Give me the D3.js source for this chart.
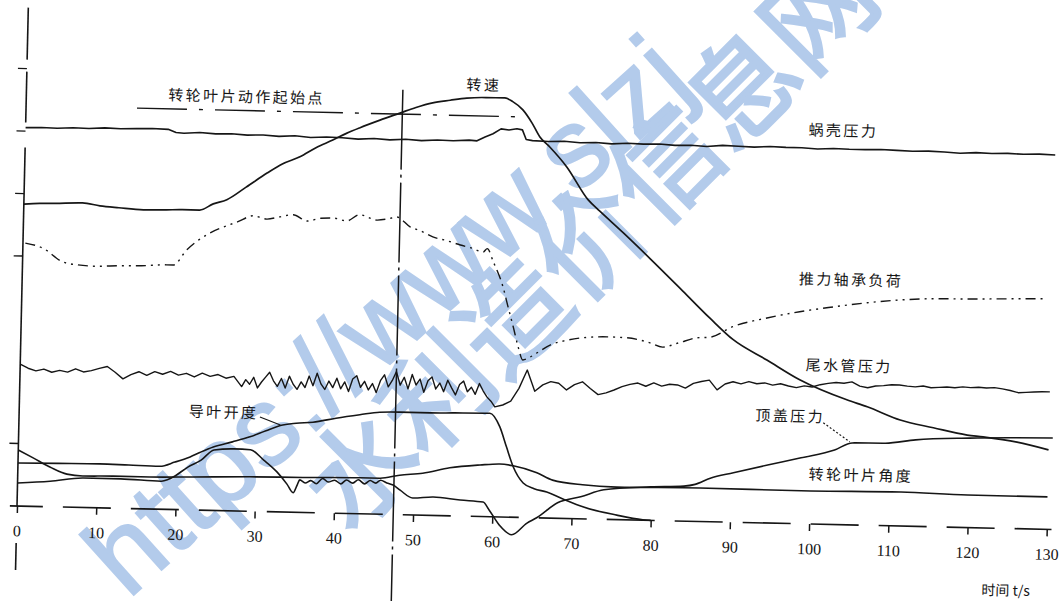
<!DOCTYPE html>
<html>
<head>
<meta charset="utf-8">
<script src="https://cdn.jsdelivr.net/npm/d3@7"></script>
<style>
  html, body { margin: 0; padding: 0; background: #fff; }
  svg { display: block; }
</style>
</head>
<body>
<svg id="chart" width="1063" height="601"></svg>
<script>
// ---- axis ticks ----
const timeTicks = [0, 10, 20, 30, 40, 50, 60, 70, 80, 90, 100, 110, 120, 130];
const levelTicks = [12.5, 50, 62.5, 75, 87.5];

// ---- recorded traces: [time s, relative level] ----
const spiralCasePressure = [
  [0,75.7],[2,75.8],[4,75.7],[6,75.9],[8,75.8],[10,76.0],[12,75.9],[14,76.0],[16,76.1],[18,76.0],
  [19,75.4],[20,75.3],[22,75.5],[24,75.3],[26,75.4],[28,75.2],[30,75.3],[32,75.1],[34,75.3],[36,75.0],
  [38,75.2],[40,75.1],[42,74.9],[44,75.1],[46,74.9],[48,75.1],[50,74.9],[52,75.1],[54,75.0],[56,75.2],
  [57,75.1],[58,75.9],[59,76.6],[60,77.6],[61,77.4],[62,77.7],[62.7,77.5],[63.2,75.6],[64,75.4],[66,75.3],
  [68,75.4],[70,75.2],[72,75.3],[74,75.1],[76,75.3],[78,75.2],[80,75.3],[82,75.1],[84,75.2],[86,75.0],
  [88,75.3],[90,75.2],[92,75.1],[94,75.3],[96,75.2],[98,75.2],[100,75.0],[102,75.2],[104,75.1],[106,75.1],
  [108,75.2],[110,75.1],[112,75.0],[114,75.1],[116,75.0],[118,74.8],[120,75.0],[122,74.9],[124,75.0],
  [126,74.9],[128,75.0],[130,74.9]
];

const rotationalSpeed = [
  [0,60.4],[2,60.6],[4,60.7],[7.4,60.9],[9.6,60.4],[12,60.1],[15.1,59.8],[18,59.9],[20,60.0],[22.2,60.0],
  [23.9,61.3],[25.6,62.2],[28,64.8],[30.6,67.7],[32.5,69.6],[34.7,71.1],[36.7,73.0],[38.8,74.6],[40.5,76.0],
  [42.2,77.2],[44.7,78.8],[47.2,80.3],[49.2,81.5],[51.3,82.5],[53.5,83.1],[55.6,83.6],[58,83.8],[60.4,83.8],
  [61.4,83.1],[62.7,81.5],[63.9,78.9],[64.9,76.2],[66.2,74.2],[68.4,70.3],[71.2,63.8],[72.7,61.6],[75.7,57.4],
  [79.2,52.3],[83.4,46.0],[86.9,40.7],[89.9,36.5],[94.2,32.6],[98.4,28.8],[104.4,25.0],[107,23.7],[111.2,21.2],
  [115.4,19.8],[119.7,18.5],[121.7,18.2],[126,17.3],[130,15.9]
];

const thrustBearingLoad = [
  [0.3,52.6],[2.5,51.7],[5.1,49.0],[6.9,48.5],[9,48.3],[12.3,48.5],[15,48.6],[18.2,48.9],[19,48.9],[20.7,52.0],
  [23.6,55.5],[25.7,57.0],[27,57.8],[29,59.1],[30.7,58.5],[32.3,59.0],[34,59.5],[35.8,58.3],[37.5,58.9],[39.1,59.0],
  [40.8,58.5],[42.4,59.8],[44.6,58.8],[46,59.1],[47.1,59.5],[48.8,57.6],[50.2,56.8],[51.7,55.7],[53.5,55.0],
  [55.2,54.2],[56.7,53.6],[58.1,52.9],[58.6,53.6],[59.4,51.0],[60.7,46.0],[61.4,42.0],[62.1,38.1],[62.8,34.0],
  [63.4,31.5],[64.2,32.0],[65.2,33.0],[66.8,34.6],[68.8,35.6],[70.9,36.2],[74,36.5],[76.5,36.4],[79.4,35.5],
  [81,34.7],[83,35.6],[85.3,36.7],[87,36.9],[89.8,39.1],[94.1,41.0],[98.2,42.4],[102.4,43.5],[106.7,44.5],
  [110.8,45.2],[115,45.6],[119.3,45.7],[124,45.9],[128.9,46.1]
];

const draftTubePressure = [
  [0,28.4],[1,27.6],[2,27.1],[3,27.5],[4,26.9],[5,27.3],[6,27.0],[7,27.7],[8,27.1],[9,27.4],
  [10,27.9],[11,28.3],[12,27.2],[13,25.9],[14,26.8],[15,27.4],[16,26.7],[17,27.5],[18,27.0],[19,27.6],
  [20,26.9],[21,27.3],[22,26.6],[23,27.4],[24,26.8],[25,27.2],[26,26.5],[27,26.9],
  [28,24.9],[28.5,26.3],[29,25.4],[29.5,26.8],[30,24.7],[30.5,25.9],[31,26.9],[31.5,27.9],[32,26.2],[32.5,25.1],
  [33,26.7],[33.5,24.8],[34,27.2],[34.5,25.6],[35,24.6],[35.5,26.1],[36,25.0],[36.5,27.3],[37,25.4],[37.5,27.9],
  [38,25.8],[38.5,24.7],[39,26.4],[39.5,25.1],[40,27.0],[40.5,24.9],[41,26.3],[41.5,24.4],[42,26.9],[42.5,27.6],
  [43,25.3],[43.5,26.5],[44,24.8],[44.5,26.1],[45,24.3],[45.5,26.7],[46,27.9],[46.5,25.5],[47,26.8],[47.5,28.6],
  [48,25.9],[48.5,27.5],[49,25.2],[49.5,28.1],[50,26.0],[50.5,27.2],[51,24.6],[51.5,26.9],[52,27.7],[52.5,25.3],
  [53,26.5],[53.5,24.8],[54,27.1],[54.5,25.6],[55,24.2],[55.5,26.3],[56,27.0],[56.5,24.9],[57,25.8],[57.5,24.4],
  [58,26.6],[58.5,25.1],[59,23.9],[59.5,23.1],[60,22.0],[61,22.4],[62,23.2],[63,25.8],[64,29.5],[65,25.3],
  [66,26.6],[67,27.3],[68,27.0],[69,25.7],[70,26.8],[71,27.4],[72,26.1],[73,24.9],[74,25.3],[75,25.9],
  [76,26.6],[77,27.1],[78,27.4],[79,26.8],[80,27.5],[81,26.9],[82,27.3],[83,27.2],[84,26.6],[85,27.6],
  [86,28.0],[87,28.3],[88,26.4],[89,27.6],[90,28.1],[91,27.7],[92,28.2],[93,27.8],[94,28.0],[95,27.6],
  [96,27.9],[97,27.5],[98,27.2],[99,27.6],[100,27.4],[101,27.9],[102,28.2],[103,28.4],[104,28.3],[105,28.6],
  [106,27.8],[107,27.5],[108,27.9],[109,28.0],[110,28.2],[111,28.2],[112,28.0],[113,27.9],[114,28.1],[115,27.8],
  [116,27.9],[117,28.0],[118,27.9],[119,28.1],[120,28.0],[121,28.1],[122,28.0],[123,28.1],[124,27.9],[125,27.6],
  [126,27.2],[127,27.3],[128,27.4],[129,27.5],[130,27.5]
];

const guideVaneOpening = [
  [0,8.6],[5,8.7],[10.3,8.8],[14,8.7],[17.9,8.6],[19.8,9.5],[21.7,10.6],[23,11.6],[24.6,12.7],[27,13.8],
  [29.2,14.9],[31.2,16.2],[33.3,17.4],[35,17.8],[37.1,18.1],[40,19.0],[43,19.8],[45.5,20.4],[48,20.5],
  [51.9,20.5],[55,20.6],[59.4,20.7],[60.7,18.0],[61.6,14.0],[62.5,10.1],[63.8,6.9],[65.2,5.8],[66.8,5.2],
  [69,3.8],[71.4,2.4],[75.7,0.9],[79,0.1],[80,0]
];

const headCoverPressure = [
  [0,4.6],[4.1,5.1],[8.3,5.9],[13,5.9],[18.1,5.6],[19.4,6.3],[21.5,8.6],[23.1,10.0],[24.7,12.1],[27.2,12.4],
  [29.3,12.3],[31,10.3],[32.7,8.0],[34,5.6],[34.8,3.9],[35.3,5.5],[35.6,6.5],[36.3,5.9],[37,6.4],[37.7,5.8],
  [38.5,6.9],[39.2,6.2],[40,6.6],[40.8,5.9],[41.5,6.7],[42.3,6.1],[43,6.8],[43.8,6.0],[44.5,6.7],[45.2,6.2],
  [45.8,6.8],[46.6,6.3],[47.4,5.9],[48.3,4.9],[49.9,3.4],[52.5,3.7],[55.9,3.2],[58.8,2.9],[59.6,1.3],
  [60.9,-1.6],[62.5,-3.5],[64.4,-1.1],[65.6,0],[68.2,3.1],[71.1,4.4],[74,5.9],[79.9,6.7],[84.1,7.0],
  [85.5,7.4],[87.4,8.7],[90.3,9.9],[94.6,11.6],[98.8,13.2],[103,14.9],[105.2,16.4],[109.4,16.5],[113.2,17.3],
  [120,17.9],[130.5,18.3]
];

const runnerBladeAngle = [
  [0,11.2],[1.9,9.7],[4.1,7.9],[6.2,6.6],[8.2,6.3],[12,6.4],[16.7,6.4],[22,6.6],[29.3,6.9],[36,7.0],
  [43.2,7.2],[45.7,7.2],[48.2,7.9],[51.1,8.4],[54.5,9.6],[58.3,10.3],[60.8,10.6],[62.5,10.3],[65.5,9.0],
  [67.5,7.6],[71.3,6.8],[75.6,6.5],[86.1,6.7],[98.9,6.6],[111.5,6.8],[119.9,6.5],[130,6.5]
];

// blade action start: time mark and speed reference level
const bladeStartTime = 47.5;
const bladeStartLevel = 80.1;
const bladeMarkSpan = [14, 62.4];

// ---- texts ----
const curveNames = ['转轮叶片动作起始点', '转速', '蜗壳压力', '推力轴承负荷', '尾水管压力', '导叶开度', '顶盖压力', '转轮叶片角度'];
const timeTitle = '时间 t/s';
const siteUrl = 'https://www.slzj';
const siteName = '水利造价信息网';

// ---- drawing ----
const svg = d3.select('#chart');
const ink = '#161616';

// site mark behind the chart
const wm = svg.append('g').attr('fill', '#b3cbeb');
wm.append('text')
  .attr('transform', 'translate(128,600) rotate(-42)')
  .style('font-family', '"Liberation Sans", Arial, sans-serif')
  .style('font-size', '112px')
  .attr('stroke', '#b3cbeb').attr('stroke-width', 2)
  .text(siteUrl);
wm.append('text')
  .attr('transform', 'translate(350,536) rotate(-45)')
  .style('font-family', '"Noto Sans CJK SC", sans-serif')
  .style('font-size', '108px')
  .attr('stroke', '#b3cbeb').attr('stroke-width', 3)
  .text(siteName);

const x = d3.scaleLinear().domain([0, 130]).range([0, 1030]);
const y = d3.scaleLinear().domain([0, 100]).range([0, -500]);

// the recorder sheet sits slightly turned
const g = svg.append('g').attr('transform', 'translate(17,506) rotate(1.3)');

// time axis (broken baseline as on the recorder sheet)
g.append('line')
  .attr('x1', x(-0.9)).attr('x2', x(130.6))
  .attr('y1', y(0)).attr('y2', y(0))
  .attr('stroke', ink).attr('stroke-width', 1.6)
  .attr('stroke-dasharray', '48,20').attr('stroke-dashoffset', 15);

const xAxis = d3.axisBottom(x)
  .tickValues(timeTicks)
  .tickSize(7)
  .tickPadding(12)
  .tickFormat(d3.format('d'));
const xa = g.append('g').call(xAxis);
xa.select('.domain').remove();
xa.selectAll('.tick line').attr('stroke', ink).attr('stroke-width', 1.5);
xa.selectAll('.tick text')
  .attr('fill', ink)
  .style('font-family', '"Liberation Serif", "DejaVu Serif", serif')
  .style('font-size', '16px');

// level axis pieces
const axisPieces = [[99.7, 89.3], [86.9, 76.7], [71.7, 0], [-7.4, -12.8]];
g.selectAll('line.yaxis').data(axisPieces).enter().append('line')
  .attr('class', 'yaxis')
  .attr('x1', x(0)).attr('x2', x(0))
  .attr('y1', d => y(d[0])).attr('y2', d => y(d[1]))
  .attr('stroke', ink).attr('stroke-width', 1.6);
g.selectAll('line.ytick').data(levelTicks).enter().append('line')
  .attr('class', 'ytick')
  .attr('x1', x(0) - 9).attr('x2', x(0))
  .attr('y1', d => y(d)).attr('y2', d => y(d))
  .attr('stroke', ink).attr('stroke-width', 1.4);

// time title
g.append('text')
  .attr('x', x(125)).attr('y', y(-12.2))
  .attr('text-anchor', 'middle').attr('dominant-baseline', 'central')
  .attr('fill', ink)
  .style('font-family', '"Noto Sans CJK SC", sans-serif')
  .style('font-size', '14px')
  .text(timeTitle);

// blade action start markers
g.append('line')
  .attr('x1', x(bladeStartTime)).attr('x2', x(bladeStartTime))
  .attr('y1', y(85)).attr('y2', y(-20))
  .attr('stroke', ink).attr('stroke-width', 1.5)
  .attr('stroke-dasharray', '80,5,3,5');
g.append('line')
  .attr('x1', x(bladeMarkSpan[0])).attr('x2', x(bladeMarkSpan[1]))
  .attr('y1', y(bladeStartLevel)).attr('y2', y(bladeStartLevel))
  .attr('stroke', ink).attr('stroke-width', 1.4)
  .attr('stroke-dasharray', '50,12,4,12');

// traces
const smooth = d3.line().x(d => x(d[0])).y(d => y(d[1])).curve(d3.curveMonotoneX);
const raw = d3.line().x(d => x(d[0])).y(d => y(d[1]));

const traces = [
  { data: spiralCasePressure, gen: raw, w: 1.6 },
  { data: rotationalSpeed, gen: smooth, w: 1.7 },
  { data: thrustBearingLoad, gen: smooth, w: 1.4, dash: '10,5,2,5,2,5' },
  { data: draftTubePressure, gen: raw, w: 1.4 },
  { data: guideVaneOpening, gen: smooth, w: 1.6 },
  { data: headCoverPressure, gen: smooth, w: 1.6 },
  { data: runnerBladeAngle, gen: smooth, w: 1.6 }
];
traces.forEach(tr => {
  g.append('path')
    .attr('d', tr.gen(tr.data))
    .attr('fill', 'none')
    .attr('stroke', ink)
    .attr('stroke-width', tr.w)
    .attr('stroke-linejoin', 'round')
    .attr('stroke-dasharray', tr.dash || null);
});

// curve names
const nameSpots = [
  [27.8, 83.1], [57.7, 86.5], [103.2, 79.0], [104.6, 49.2],
  [104.6, 32.0], [25.8, 19.9], [97.3, 21.7], [106.4, 10.2]
];
g.selectAll('text.name').data(curveNames).enter().append('text')
  .attr('class', 'name')
  .attr('x', (d, i) => x(nameSpots[i][0]))
  .attr('y', (d, i) => y(nameSpots[i][1]))
  .attr('text-anchor', 'middle').attr('dominant-baseline', 'central')
  .attr('fill', ink)
  .style('font-family', '"Noto Sans CJK SC", sans-serif')
  .style('font-size', '15px')
  .style('letter-spacing', '2.4px')
  .text(d => d);

// leaders from names to curves
g.append('line')
  .attr('x1', x(30.4)).attr('y1', y(18.9)).attr('x2', x(33.0)).attr('y2', y(17.4))
  .attr('stroke', ink).attr('stroke-width', 1.2);
g.append('line')
  .attr('x1', x(101.5)).attr('y1', y(20.3)).attr('x2', x(104.9)).attr('y2', y(16.6))
  .attr('stroke', ink).attr('stroke-width', 1.2).attr('stroke-dasharray', '2,2');
</script>
</body>
</html>
